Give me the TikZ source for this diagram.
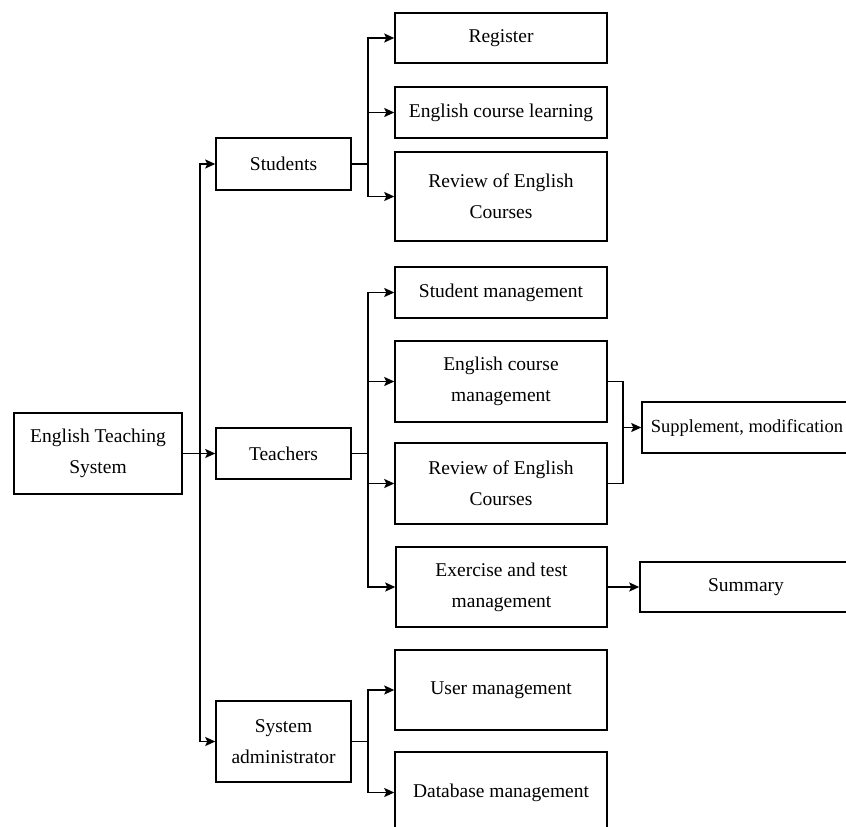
\documentclass[tikz,border=0pt]{standalone}
\usepackage{fontspec}
\setmainfont{Liberation Serif}
\usetikzlibrary{arrows.meta}

\begin{document}
\begin{tikzpicture}[x=1pt,y=-1pt,
    box/.style={draw,line width=1.5pt,inner sep=0pt,align=center,
      font=\fontsize{19.5}{31}\selectfont},
    link/.style={line width=1.7pt},
    arr/.style={link,-{Stealth[length=10pt,width=9pt,inset=2pt]}}]
      \useasboundingbox (0,0) rectangle (846,827);
      \clip             (0,0) rectangle (846,827);
      % level 0 and 1
      \node[box,minimum width=168pt,minimum height=81pt] (root)     at (98,453.5)  {English Teaching\\System};
      \node[box,minimum width=135pt,minimum height=52pt] (students) at (283.5,164)  {Students};
      \node[box,minimum width=135pt,minimum height=51pt] (teachers) at (283.5,453.5) {Teachers};
      \node[box,minimum width=135pt,minimum height=81pt] (sysadm)   at (283.5,741.5) {System\\administrator};
      % level 2
      \node[box,minimum width=212pt,minimum height=50pt] (register) at (501,38)    {Register};
      \node[box,minimum width=212pt,minimum height=51pt] (learning) at (501,112.5) {English course learning};
      \node[box,minimum width=212pt,minimum height=89pt] (reviewS)  at (501,196.5) {Review of English\\Courses};
      \node[box,minimum width=212pt,minimum height=51pt] (stumgmt)  at (501,292.5) {Student management};
      \node[box,minimum width=212pt,minimum height=81pt] (coursem)  at (501,381.5) {English course\\management};
      \node[box,minimum width=212pt,minimum height=81pt] (reviewT)  at (501,483.5) {Review of English\\Courses};
      \node[box,minimum width=211pt,minimum height=80pt] (exercise) at (501.5,587) {Exercise and test\\management};
      \node[box,minimum width=212pt,minimum height=80pt] (userm)    at (501,690)   {User management};
      \node[box,minimum width=212pt,minimum height=81pt] (dbm)      at (501,792.5) {Database management};
      % level 3
      \node[box,minimum width=210pt,minimum height=51pt,
        font=\fontsize{18.5}{31}\selectfont]              (supp)     at (747,427.5) {Supplement, modification};
      \node[box,minimum width=212pt,minimum height=50pt] (summary)  at (746,587)   {Summary};
      % junctions
      \coordinate (j0) at (200,453.5);
      \coordinate (j1) at (368,164);
      \coordinate (j2) at (368,453.5);
      \coordinate (j3) at (368,741.5);
      \coordinate (j4) at (623,427.5);
      % connectors
      \draw[arr] (root.east) -- (teachers.west);
      \draw[arr] (j0) |- (students.west);
      \draw[arr] (j0) |- (sysadm.west);
      \draw[link] (students.east) -- (j1);
      \draw[link] (teachers.east) -- (j2);
      \draw[link] (sysadm.east) -- (j3);
      \foreach \t in {register,learning,reviewS}
      \draw[arr] (j1) |- (\t.west);
      \foreach \t in {stumgmt,coursem,reviewT,exercise}
      \draw[arr] (j2) |- (\t.west);
      \foreach \t in {userm,dbm}
      \draw[arr] (j3) |- (\t.west);
      \draw[link] (coursem.east) -| (j4) |- (reviewT.east);
      \draw[arr] (j4) -- (supp.west);
      \draw[arr] (exercise.east) -- (summary.west);
    \end{tikzpicture}
\end{document}
